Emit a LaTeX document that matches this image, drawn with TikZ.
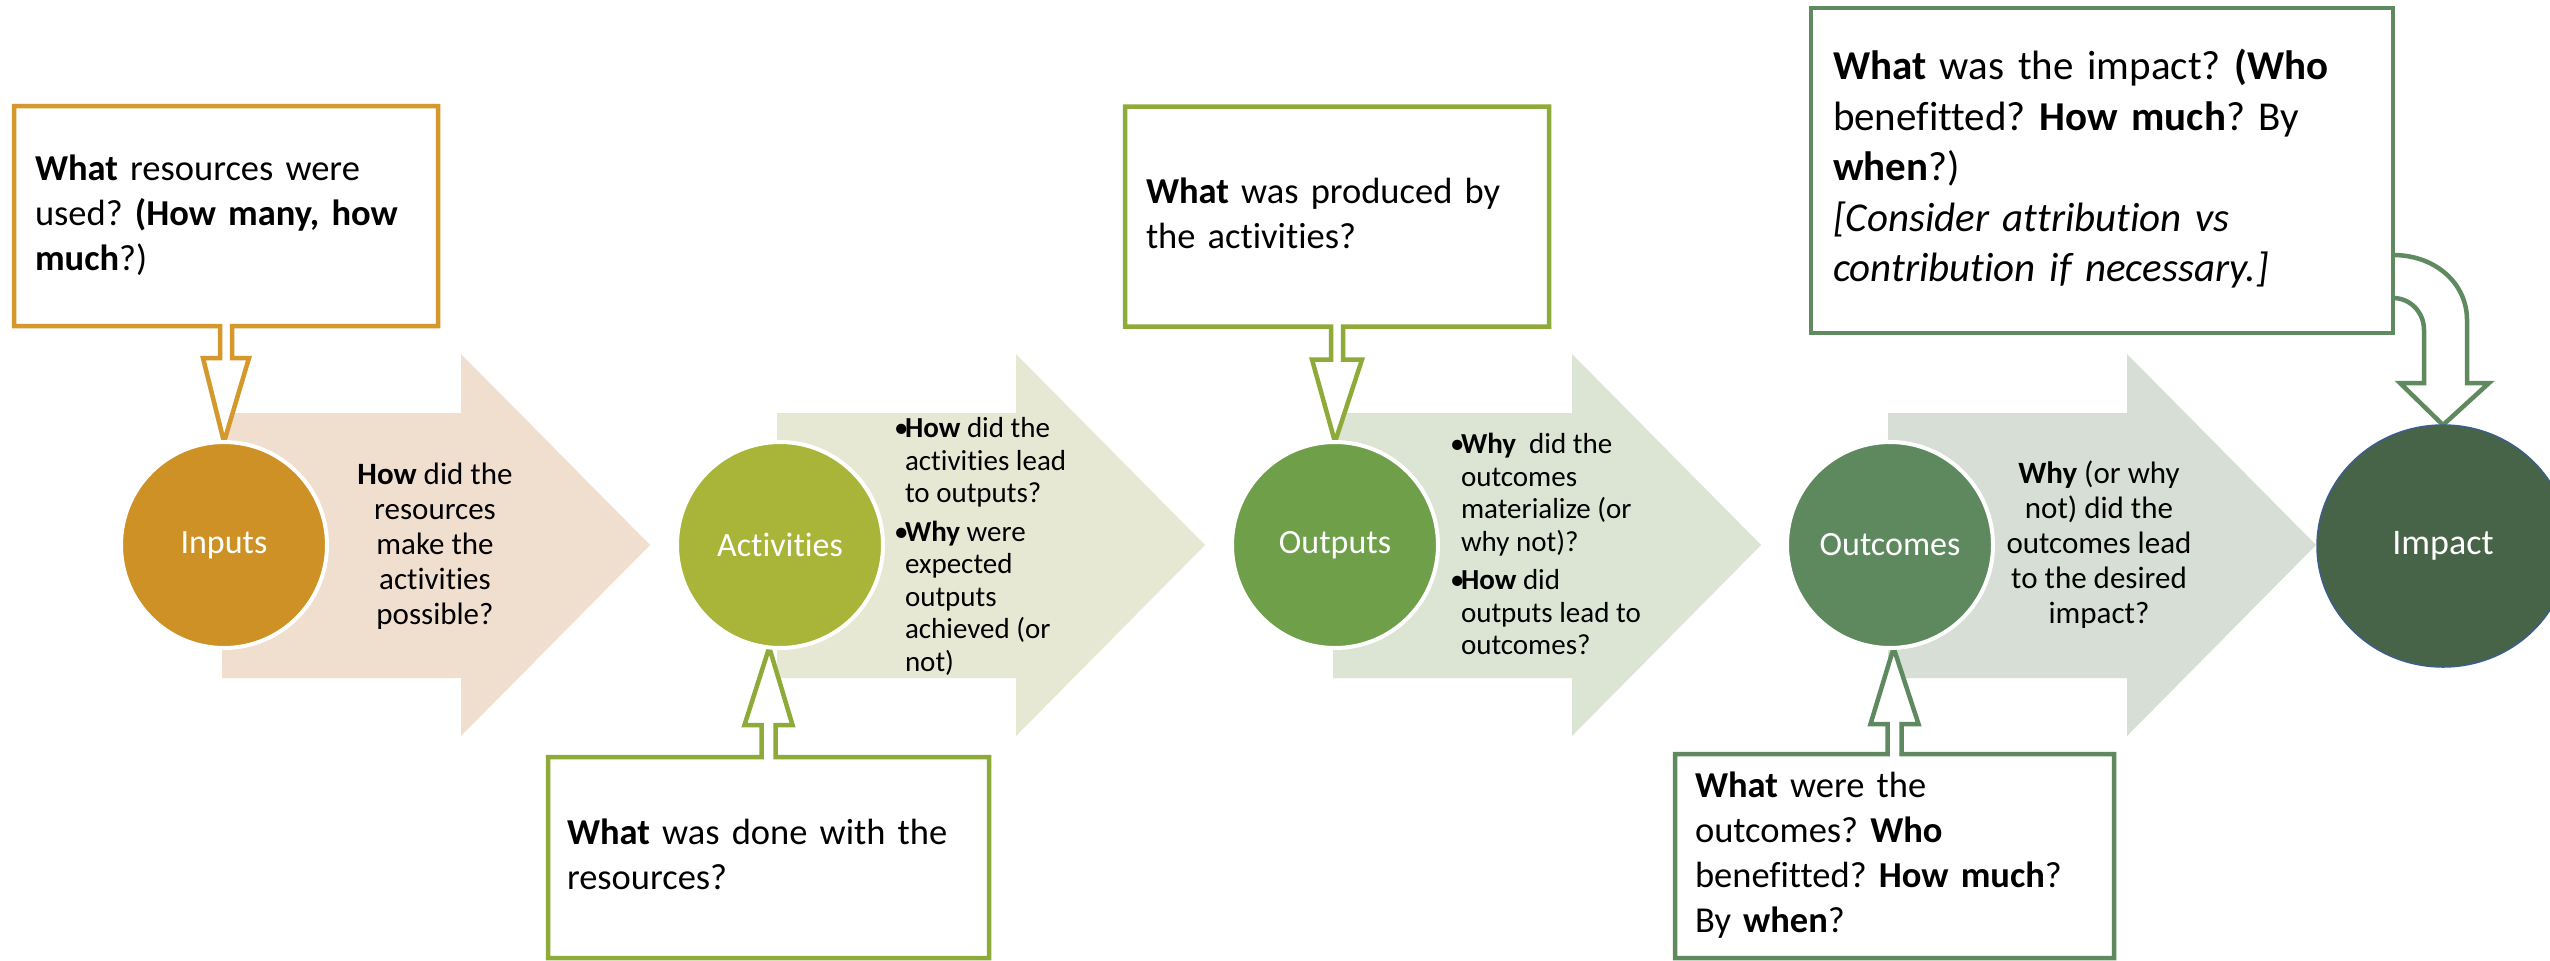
\documentclass[tikz,border=0pt]{standalone}
\usepackage{fontspec}
\setmainfont{Carlito}[Ligatures=CommonOff]
\usetikzlibrary{calc,shapes.geometric}

% stage fills
\definecolor{inC}{HTML}{CD9126}
\definecolor{actC}{HTML}{A9B539}
\definecolor{outC}{HTML}{709F4A}
\definecolor{ocC}{HTML}{5E895E}
\definecolor{impC}{HTML}{486448}
\definecolor{impRim}{HTML}{3B5E8C}
% chevron fills
\definecolor{arA}{HTML}{F0DECE}
\definecolor{arB}{HTML}{E7E8D4}
\definecolor{arC}{HTML}{DCE4D4}
\definecolor{arD}{HTML}{D6DED6}
% frame strokes
\definecolor{inLine}{HTML}{D4982C}
\definecolor{grLine}{HTML}{8EAA38}
\definecolor{ocLine}{HTML}{5F8A5F}

\pgfdeclarelayer{chevrons}
\pgfdeclarelayer{frames}
\pgfsetlayers{chevrons,frames,main}

\begin{document}
\frenchspacing
\begin{tikzpicture}[x=0.5pt,y=-0.5pt,
  stage/.style={circle,minimum size=103pt,inner sep=0pt,outer sep=0pt,
    draw=white,line width=2pt,text=white,font=\fontsize{17pt}{20pt}\selectfont},
  qbox/.style={rectangle,inner ysep=0pt,outer sep=0pt,align=left,
    font=\fontsize{18.25pt}{22.5pt}\selectfont},
  frame/.style={line width=2.25pt,fill=white,line join=miter},
  whytext/.style={inner sep=0pt,outer sep=0pt,align=center,
    font=\fontsize{15.5pt}{17.5pt}\selectfont},
  bullets/.style={inner sep=0pt,outer sep=0pt,align=left,
    font=\fontsize{14.5pt}{16.25pt}\selectfont}
]
\useasboundingbox (0,0) rectangle (2550,960);

% page ground and chevrons between the stages
\begin{pgfonlayer}{chevrons}
\fill[white] (0,0) rectangle (2550,960);
\foreach \xo/\col in {222/arA,777/arB,1333/arC,1888/arD}
  \fill[\col,shift={(\xo,0)}] (0,413) -- (239,413) -- (239,354) -- (428,545)
    -- (239,736) -- (239,678) -- (0,678) -- cycle;
\end{pgfonlayer}

% stages
\node[stage,fill=inC]  (in)   at (224,545)  {Inputs};
\node[stage,fill=actC] (act)  at (780,545)  {Activities};
\node[stage,fill=outC] (outp) at (1335,545) {Outputs};
\node[stage,fill=ocC]  (oc)   at (1890,545) {Outcomes};
\node[ellipse,minimum width=126pt,minimum height=121pt,inner sep=0pt,outer sep=0pt,
  fill=impC,draw=impRim,line width=0.75pt,text=white,
  font=\fontsize{18pt}{21pt}\selectfont] (imp) at (2443,546) {Impact};

% questions on the chevrons
\node[whytext,anchor=north] (w1) at (435,459.5)
  {\strut\textbf{How} did the\\resources\\make the\\activities\\possible?\strut};
\node[bullets,anchor=north west] (w2) at (894,415)
  {\strut\makebox[5.5pt][l]{\textbullet}\textbf{How} did the\\
   \hspace*{5.5pt}activities lead\\
   \hspace*{5.5pt}to outputs?\\[3pt]
   \makebox[5.5pt][l]{\textbullet}\textbf{Why} were\\
   \hspace*{5.5pt}expected\\
   \hspace*{5.5pt}outputs\\
   \hspace*{5.5pt}achieved (or\\
   \hspace*{5.5pt}not)\strut};
\node[bullets,anchor=north west] (w3) at (1450,431)
  {\strut\makebox[5.5pt][l]{\textbullet}\textbf{Why}\ \ did the\\
   \hspace*{5.5pt}outcomes\\
   \hspace*{5.5pt}materialize (or\\
   \hspace*{5.5pt}why not)?\\[3pt]
   \makebox[5.5pt][l]{\textbullet}\textbf{How} did\\
   \hspace*{5.5pt}outputs lead to\\
   \hspace*{5.5pt}outcomes?\strut};
\node[whytext,anchor=north] (w4) at (2099,458.5)
  {\strut\textbf{Why} (or why\\not) did the\\outcomes lead\\to the desired\\impact?\strut};

% question boxes
\node[qbox,minimum width=212pt,minimum height=110pt,inner xsep=10.5pt,text width=191pt]
  (qin) at (226,216)
  {\strut\textbf{What} resources were\\used? \textbf{(How many, how}\\\textbf{much}?)\strut};
\node[qbox,minimum width=212pt,minimum height=110pt,inner xsep=10.5pt,text width=191pt]
  (qout) at (1337,216.5)
  {\strut\textbf{What} was produced by\\the activities?\strut};
\node[qbox,minimum width=220.5pt,minimum height=100.5pt,inner xsep=9.5pt,text width=201.5pt]
  (qact) at (768.5,857.5)
  {\strut\textbf{What} was done with the\\resources?\strut};
\node[qbox,minimum width=219.5pt,minimum height=102pt,inner xsep=10pt,text width=199.5pt]
  (qoc) at (1894.5,856)
  {\strut\textbf{What} were the\\outcomes? \textbf{Who}\\benefitted? \textbf{How much}?\\By \textbf{when}?\strut};
\node[qbox,minimum width=291pt,minimum height=162.5pt,inner xsep=11pt,text width=269pt,
  font=\fontsize{20.5pt}{25.25pt}\selectfont,draw=ocLine,fill=white,line width=2.25pt]
  (qimp) at (2102,170.5)
  {\strut\textbf{What} was the impact? \textbf{(Who}\\benefitted? \textbf{How much}? By\\
   \textbf{when}?)\\\textit{[Consider attribution vs}\\\textit{contribution if necessary.]}\strut};

% box outlines with their pointers
\begin{pgfonlayer}{frames}
\draw[frame,draw=inLine] (qin.north west) -- (qin.north east) -- (qin.south east)
  -- ($(qin.south)+(6,0)$) -- ++(0,32) -- ++(17,0) -- (in.north)
  -- ($(qin.south)+(-23,32)$) -- ++(17,0) -- ($(qin.south)+(-6,0)$)
  -- (qin.south west) -- cycle;
\draw[frame,draw=grLine] (qout.north west) -- (qout.north east) -- (qout.south east)
  -- ($(qout.south)+(6,0)$) -- ++(0,33) -- ++(19,0) -- (outp.north)
  -- ($(qout.south)+(-25,33)$) -- ++(19,0) -- ($(qout.south)+(-6,0)$)
  -- (qout.south west) -- cycle;
\draw[frame,draw=grLine] (qact.north west) -- ($(qact.north)+(-7,0)$) -- ++(0,-32)
  -- ++(-17,0) -- (act.264) -- ($(qact.north)+(24,-32)$) -- ++(-17,0)
  -- ($(qact.north)+(7,0)$) -- (qact.north east) -- (qact.south east)
  -- (qact.south west) -- cycle;
\draw[frame,draw=ocLine] (qoc.north west) -- ($(qoc.north)+(-7,0)$) -- ++(0,-30)
  -- ++(-17,0) -- (oc.272) -- ($(qoc.north)+(24,-30)$) -- ++(-17,0)
  -- ($(qoc.north)+(7,0)$) -- (qoc.north east) -- (qoc.south east)
  -- (qoc.south west) -- cycle;
% bent pointer from the impact box down to the impact stage
\draw[frame,draw=ocLine] ($(qimp.north east)+(0,247)$)
  .. controls +(42,0) and +(0,-37) .. ($(qimp.north east)+(74,312)$)
  -- ($(qimp.north east)+(74,375)$) -- ++(22,0) -- (imp.north)
  -- ($(qimp.north east)+(7,375)$) -- ++(24,0) -- ($(qimp.north east)+(31,322)$)
  .. controls +(0,-18) and +(17,0) .. ($(qimp.north east)+(0,290)$);
\end{pgfonlayer}
\end{tikzpicture}
\end{document}
